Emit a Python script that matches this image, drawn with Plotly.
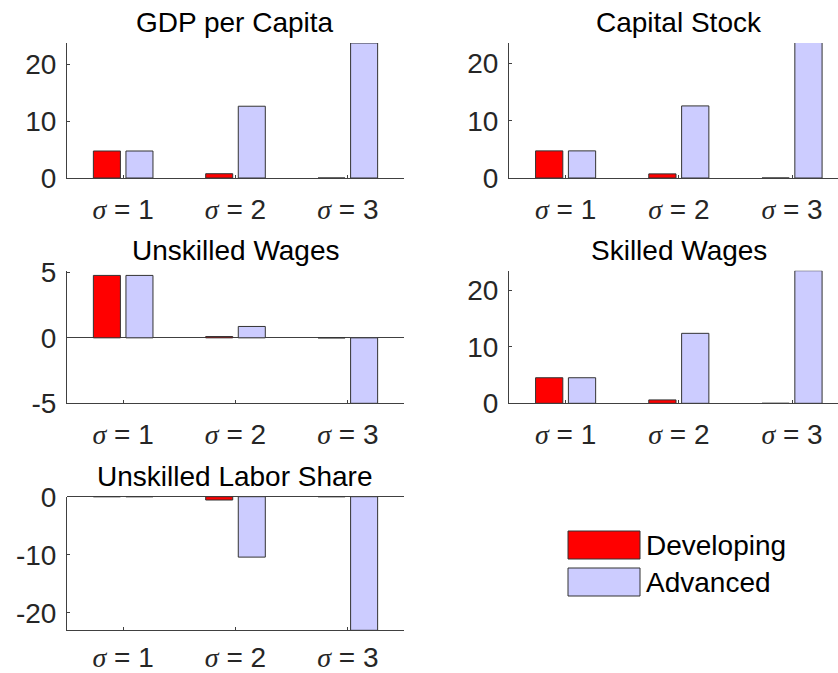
import plotly.graph_objects as go

# --------------------------------------------
# Data
# --------------------------------------------
sigma_values = [1, 2, 3]
series_names = ["Developing", "Advanced"]
series_colors = ["#FF0000", "#CCCCFF"]

panel_titles = ["GDP per Capita", "Capital Stock", "Unskilled Wages",
                "Skilled Wages", "Unskilled Labor Share"]

gdp_developing = [4.74, 0.75, 0.0]
gdp_advanced = [4.74, 12.6, 23.7]

capital_developing = [4.74, 0.72, 0.0]
capital_advanced = [4.74, 12.6, 23.7]

unskilled_wage_developing = [4.77, 0.1, 0.0]
unskilled_wage_advanced = [4.77, 0.87, -5.0]

skilled_wage_developing = [4.53, 0.6, 0.0]
skilled_wage_advanced = [4.53, 12.4, 23.5]

labor_share_developing = [0.0, -0.57, 0.0]
labor_share_advanced = [0.0, -10.4, -23.0]

# --------------------------------------------
# Layout constants (pixels of the 838x673 canvas)
# --------------------------------------------
W, H = 838, 673
FONT = "Liberation Sans, Arial, sans-serif"
AXIS_COLOR = "#404040"
TEXT_COLOR = "#262626"
TICK_SIZE = 28
TITLE_SIZE = 28

def px_x(v):
    return v / W

def px_y(v):
    return 1 - v / H

# column x-domains and row y-domains (top, bottom in px)
col_dom = [[px_x(67), px_x(404)], [px_x(509), 1.0]]
col_range = [[0.5, 3.5], [0.5, 3.406]]
row_px = [(43, 178), (270.7, 403.3), (496.7, 630.3)]
row_standoff = [6, 6, 2]

panels = [
    # (row, col, developing, advanced, y range, ticks)
    (0, 0, gdp_developing, gdp_advanced, [0, 23.7], [0, 10, 20]),
    (0, 1, capital_developing, capital_advanced, [0, 23.6], [0, 10, 20]),
    (1, 0, unskilled_wage_developing, unskilled_wage_advanced, [-5.0, 5.13], [-5, 0, 5]),
    (1, 1, skilled_wage_developing, skilled_wage_advanced, [0, 23.5], [0, 10, 20]),
    (2, 0, labor_share_developing, labor_share_advanced, [-23.0, 0], [-20, -10, 0]),
]

tick_text = ["<span style='font-family:Liberation Serif'><i>σ</i></span> = %d" % s
             for s in sigma_values]

fig = go.Figure()
layout_axes = {}
annotations = []

for i, (row, col, dev, adv, yr, yt) in enumerate(panels):
    n = "" if i == 0 else str(i + 1)
    for name, color, vals in zip(series_names, series_colors, [dev, adv]):
        fig.add_trace(go.Bar(
            x=sigma_values, y=vals, name=name,
            marker=dict(color=color, line=dict(color="#333333", width=1)),
            xaxis="x" + n, yaxis="y" + n, showlegend=False,
        ))
    top, bot = row_px[row]
    layout_axes["xaxis" + n] = dict(
        domain=col_dom[col], range=col_range[col], anchor="y" + n,
        tickvals=sigma_values, ticktext=tick_text,
        ticks="inside", ticklen=3, tickcolor=AXIS_COLOR,
        showline=True, linecolor=AXIS_COLOR, linewidth=1,
        showgrid=False, zeroline=False, automargin=False,
        tickfont=dict(size=TICK_SIZE, color=TEXT_COLOR, family=FONT),
        ticklabelstandoff=row_standoff[row],
    )
    layout_axes["yaxis" + n] = dict(
        domain=[px_y(bot), px_y(top)], range=yr, anchor="x" + n,
        tickvals=yt, ticktext=[str(v) for v in yt],
        ticks="inside", ticklen=3, tickcolor=AXIS_COLOR,
        showline=True, linecolor=AXIS_COLOR, linewidth=1,
        showgrid=False, zeroline=True, zerolinecolor=AXIS_COLOR, zerolinewidth=1,
        automargin=False,
        tickfont=dict(size=TICK_SIZE, color=TEXT_COLOR, family=FONT),
        ticklabelstandoff=4,
    )
    x0, x1 = col_dom[col]
    if col == 1:
        # title centred over the full (clipped) axis width
        cx = px_x(678.6)
    else:
        cx = (x0 + x1) / 2
    annotations.append(dict(
        text=panel_titles[i], x=cx, y=px_y(top - 20), xref="paper", yref="paper",
        xanchor="center", yanchor="middle", showarrow=False,
        font=dict(size=TITLE_SIZE, color="#000000", family=FONT),
    ))

# hidden sixth axes that only shows its tiny tick marks
layout_axes["xaxis6"] = dict(
    domain=col_dom[1], range=col_range[1], anchor="y6",
    tickvals=[s + d for s in sigma_values for d in (-0.145, 0.145)],
    ticks="inside", ticklen=2, tickcolor="#999999", automargin=False,
    showticklabels=False, showline=False, showgrid=False, zeroline=False,
)
layout_axes["yaxis6"] = dict(
    domain=[px_y(row_px[2][1]), px_y(row_px[2][0])], range=[0, 1], anchor="x6",
    visible=False,
)

# manual legend with wide MATLAB-style patches
shapes = []
legend_rows = [(531, 559), (568, 596)]
for (t, b), name, color in zip(legend_rows, series_names, series_colors):
    shapes.append(dict(
        type="rect", xref="paper", yref="paper",
        x0=px_x(568), x1=px_x(640), y0=px_y(b), y1=px_y(t),
        fillcolor=color, line=dict(color="#333333", width=1),
    ))
    annotations.append(dict(
        text=name, x=px_x(644), y=px_y((t + b) / 2), xref="paper", yref="paper",
        xanchor="left", yanchor="middle", showarrow=False,
        font=dict(size=TITLE_SIZE, color="#000000", family=FONT),
    ))

fig.update_layout(
    width=W, height=H,
    margin=dict(l=0, r=0, t=0, b=0, autoexpand=False),
    paper_bgcolor="#FFFFFF", plot_bgcolor="rgba(0,0,0,0)",
    barmode="group", bargap=0.42, bargroupgap=0.17,
    annotations=annotations, shapes=shapes,
    font=dict(family=FONT),
    **layout_axes,
)

fig.write_html(
    "out.html",
    config={"displayModeBar": False},
    post_script="document.body.style.margin='0';document.body.style.overflow='hidden';",
)
